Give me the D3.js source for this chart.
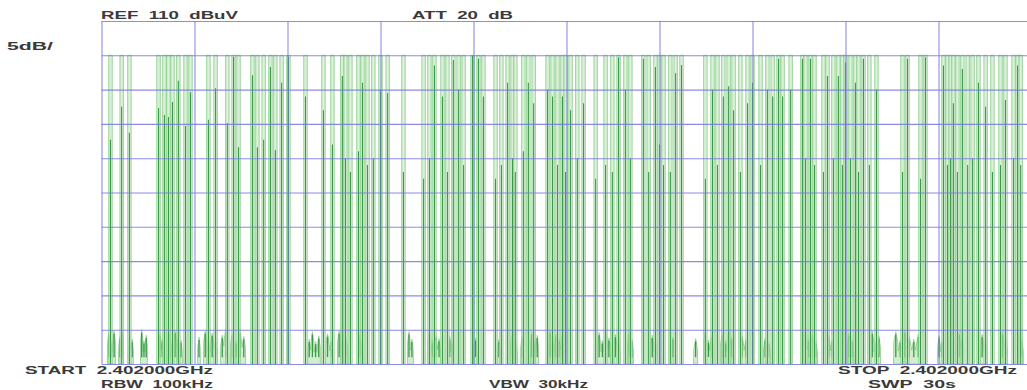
<!DOCTYPE html>
<html>
<head>
<meta charset="utf-8">
<script src="https://cdn.jsdelivr.net/npm/d3@7"></script>
<style>
  body { margin: 0; background: #fff; }
  svg text { font-family: "Liberation Sans", Arial, sans-serif; font-weight: bold; fill: #3a3a3a; white-space: pre; }
</style>
</head>
<body>
<svg id="chart" width="1027" height="390"></svg>
<script>
// zero span sweep, 30 s across, 5 dB/div from REF 110 dBuV
const sweepTicks = [0, 3, 6, 9, 12, 15, 18, 21, 24, 27, 30];
const levelTicks = [60, 65, 70, 75, 80, 85, 90, 95, 100, 105, 110];

// burst times (s)
const pulseTimes = [
  0.29, 0.65, 0.90, 1.84, 2.03, 2.16, 2.29, 2.48, 2.71, 2.87, 3.45, 3.68, 4.06, 4.26, 4.42,
  4.87, 5.03, 5.23, 5.45, 5.61, 5.81, 6.03, 6.58, 7.16, 7.45, 7.77, 7.87, 8.03, 8.29, 8.42,
  8.58, 8.77, 9.00, 9.23, 9.74, 10.39, 10.58, 10.74, 11.00, 11.16, 11.35, 11.52, 11.68, 11.97, 12.16,
  12.32, 12.71, 12.90, 13.10, 13.26, 13.35, 13.61, 13.77, 13.94, 14.39, 14.55, 14.71, 14.87, 14.97, 15.13,
  15.35, 15.55, 15.94, 16.26, 16.48, 16.68, 16.90, 17.06, 17.48, 17.65, 17.87, 18.00, 18.13, 18.35, 18.52,
  18.71, 19.48, 19.71, 19.87, 20.06, 20.23, 20.39, 20.61, 20.84, 21.00, 21.26, 21.48, 21.65, 21.84, 21.97,
  22.23, 22.61, 22.71, 22.87, 23.00, 23.29, 23.42, 23.61, 23.77, 23.90, 24.00, 24.16, 24.32, 24.42, 24.58,
  24.77, 25.00, 25.84, 26.00, 26.42, 26.58, 27.16, 27.29, 27.39, 27.48, 27.61, 27.77, 27.94, 28.10, 28.29,
  28.52, 28.74, 29.00, 29.16, 29.42, 29.55, 29.65
];
// max hold peak of each burst (dBuV)
const pulsePeaks = pulseTimes.map(() => 105);
// level where the live trace of each burst tops out (dBuV)
const traceLevels = [
  92.7, 97.5, 93.7, 97.3, 96.3, 96.0, 98.2, 101.3, 94.7, 99.6, 95.6, 100.2, 95.1, 104.8, 91.6,
  102.1, 91.6, 92.7, 103.3, 91.2, 101.0, 104.8, 99.0, 97.0, 92.0, 102.0, 90.0, 88.0, 91.0, 101.0,
  89.0, 90.0, 100.0, 99.5, 88.0, 87.0, 90.0, 103.5, 99.0, 88.0, 104.3, 100.0, 89.0, 105.0, 104.5,
  99.0, 87.0, 89.0, 101.0, 90.0, 88.0, 91.0, 101.0, 98.0, 100.0, 99.0, 89.0, 99.0, 88.0, 97.0,
  90.0, 98.0, 87.0, 89.0, 88.0, 104.7, 100.0, 90.0, 104.5, 88.0, 103.3, 92.0, 89.0, 88.0, 102.4,
  103.6, 87.0, 100.0, 89.0, 99.0, 100.5, 97.0, 88.0, 98.0, 101.0, 89.0, 100.0, 99.0, 104.5, 99.0,
  100.0, 104.5, 90.0, 104.5, 89.0, 88.0, 102.0, 90.0, 102.0, 89.0, 104.0, 90.0, 101.0, 88.0, 104.5,
  89.0, 100.0, 88.0, 104.5, 87.0, 104.7, 103.5, 89.0, 90.0, 98.0, 88.0, 103.0, 89.0, 90.0, 101.0,
  97.5, 88.0, 89.0, 98.5, 90.0, 103.5, 89.0
];

// noise floor activity: start/end (s) and spike levels (dBuV)
const noiseStart = [0.19, 0.55, 0.87, 1.26, 1.84, 2.13, 3.10, 3.29, 3.84, 4.16, 6.65, 7.23, 7.61, 8.29, 9.87,
  10.52, 11.19, 12.00, 12.77, 13.19, 13.52, 13.84, 14.42, 16.00, 16.52, 16.97, 17.71, 18.35, 19.10, 19.42,
  19.97, 20.61, 21.35, 22.65, 23.42, 24.06, 24.81, 25.55, 26.97, 27.61, 28.35, 29.00, 29.55];
const noiseEnd = [0.45, 0.71, 1.03, 1.48, 2.00, 2.61, 3.19, 3.74, 4.06, 4.65, 7.06, 7.48, 7.94, 8.45, 10.06,
  10.94, 11.35, 12.13, 12.87, 13.42, 13.61, 14.10, 14.90, 16.42, 16.74, 17.16, 17.94, 18.52, 19.23, 19.74,
  20.39, 20.84, 21.58, 23.10, 23.61, 24.26, 25.13, 26.42, 27.16, 27.81, 28.58, 29.23, 29.74];
const noiseLevels = [
  [64.6, 63.4, 64.8], [64.0, 64.9], [64.3, 63.6], [65.0, 63.4, 64.2], [64.4, 63.7], [64.7, 63.2, 64.9, 63.8, 63.5],
  [63.9], [64.8, 63.3, 64.5, 63.7], [64.2, 65.0], [64.6, 63.4, 64.8, 64.0], [63.6, 64.7, 63.3, 64.1], [64.4, 63.5],
  [64.8, 63.7, 64.0], [64.2, 63.4], [64.7, 63.6], [64.9, 63.5, 64.3, 63.7], [64.1, 63.3], [63.8], [63.6],
  [64.5, 63.4], [64.0], [64.7, 63.6, 64.2], [64.8, 63.5, 64.4, 63.7, 64.1], [64.6, 63.4, 64.9, 63.8], [64.3, 63.5],
  [64.7, 63.6], [64.2, 63.4], [63.9], [63.7], [64.8, 63.5, 64.3], [64.6, 63.4, 65.0, 63.9], [64.1, 63.6],
  [63.8, 63.3], [64.9, 63.7, 64.4, 63.4], [64.2, 63.5], [64.5, 63.6], [64.8, 63.4, 64.1], [64.7, 63.5, 64.9, 64.0, 63.6, 64.3],
  [64.1, 63.4], [64.6, 63.7], [64.3, 63.5], [64.7, 63.6], [64.4, 63.5]
];

const labels = [
  { text: "REF  110  dBuV", x: 101, y: 19, len: 137 },
  { text: "ATT  20  dB", x: 412, y: 19, len: 101 },
  { text: "5dB/", x: 7, y: 50, len: 46 },
  { text: "START  2.402000GHz", x: 25, y: 374, len: 188 },
  { text: "RBW  100kHz", x: 101, y: 388, len: 112 },
  { text: "VBW  30kHz", x: 489, y: 388, len: 99 },
  { text: "STOP  2.402000GHz", x: 838, y: 374, len: 179 },
  { text: "SWP  30s", x: 868, y: 388, len: 88 }
];

const svg = d3.select("#chart");

const x = d3.scaleLinear().domain([0, 30]).range([101.5, 1031.5]);
const y = d3.scaleLinear().domain([60, 110]).range([364, 21]);

const lightFill = "#d3eecf";
const lightEdge = "#8fd18f";
const darkTrace = "#3a9a48";
const gridBlue = "#7878e4";

// noise floor
const noise = svg.append("g");
noiseStart.forEach((t0, i) => {
  const lv = noiseLevels[i];
  const x0 = x(t0), x1 = x(noiseEnd[i]);
  const step = (x1 - x0) / lv.length;
  const pts = [[x0, y(60)]];
  lv.forEach((v, j) => {
    const cx = x0 + step * (j + 0.5);
    pts.push([cx - step * 0.45, y(v - 1.6)], [cx, y(v)], [cx + step * 0.45, y(v - 1.6)]);
  });
  pts.push([x1, y(60)]);
  noise.append("path")
    .attr("d", d3.line()(pts) + "Z")
    .attr("fill", lightFill)
    .attr("stroke", lightEdge)
    .attr("stroke-width", 0.9);
  lv.forEach((v, j) => {
    const cx = x0 + step * (j + 0.5);
    noise.append("line")
      .attr("x1", cx).attr("x2", cx)
      .attr("y1", y(v - 0.4)).attr("y2", y(61.0))
      .attr("stroke", darkTrace)
      .attr("stroke-width", 1.3);
  });
});

// bursts
const pulses = svg.append("g")
  .selectAll("g")
  .data(pulseTimes.map((t, i) => ({ t, peak: pulsePeaks[i], trace: traceLevels[i] })))
  .enter().append("g");

pulses.append("rect")
  .attr("x", d => x(d.t) - 1.7)
  .attr("y", d => y(d.peak))
  .attr("width", 3.4)
  .attr("height", d => y(60) - y(d.peak))
  .attr("fill", lightFill)
  .attr("fill-opacity", 0.8)
  .attr("stroke", lightEdge)
  .attr("stroke-width", 0.9);

pulses.append("line")
  .attr("x1", d => x(d.t))
  .attr("x2", d => x(d.t))
  .attr("y1", d => y(d.trace))
  .attr("y2", y(60))
  .attr("stroke", darkTrace)
  .attr("stroke-width", 1.1);

// graticule
const xGrid = svg.append("g")
  .attr("transform", `translate(0,${y(60)})`)
  .call(d3.axisBottom(x).tickValues(sweepTicks).tickSize(-(y(60) - y(110))).tickFormat(""));
const yGrid = svg.append("g")
  .attr("transform", `translate(${x(0)},0)`)
  .call(d3.axisLeft(y).tickValues(levelTicks).tickSize(-(x(30) - x(0))).tickFormat(""));
[xGrid, yGrid].forEach(g => {
  g.select(".domain").remove();
  g.selectAll("line").attr("stroke", gridBlue).attr("stroke-width", 1.1).attr("opacity", 0.85);
});

svg.selectAll("text.lbl")
  .data(labels)
  .enter().append("text")
  .attr("class", "lbl")
  .attr("x", d => d.x)
  .attr("y", d => d.y)
  .attr("font-size", 10.5)
  .attr("textLength", d => d.len)
  .attr("lengthAdjust", "spacingAndGlyphs")
  .text(d => d.text);
</script>
</body>
</html>
